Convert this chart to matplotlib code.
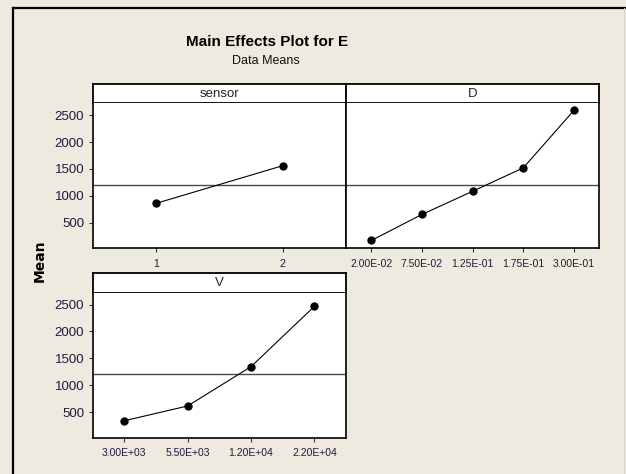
import matplotlib
matplotlib.use("Agg")
import matplotlib.pyplot as plt
from matplotlib.lines import Line2D

# Factor levels and response means
sensor_levels = ["1", "2"]
sensor_means = [860, 1560]

d_levels = ["2.00E-02", "7.50E-02", "1.25E-01", "1.75E-01", "3.00E-01"]
d_means = [170, 655, 1085, 1520, 2590]

v_levels = ["3.00E+03", "5.50E+03", "1.20E+04", "2.20E+04"]
v_means = [340, 615, 1345, 2465]

grand_mean = 1200
y_ticks = [500, 1000, 1500, 2000, 2500]

W, H = 626, 474
BG = "#eeeae0"
TICK_COLOR = "#1c1c3c"
regular = ["Liberation Sans", "DejaVu Sans"]

fig = plt.figure(figsize=(W / 100, H / 100), dpi=100, facecolor=BG)


def px_rect(x0, y0, x1, y1):
    """Convert a pixel box (top-left origin) into figure-fraction rect."""
    return [x0 / W, 1 - y1 / H, (x1 - x0) / W, (y1 - y0) / H]


def panel(x0, x1, strip_top, strip_bot, ax_bot, title, levels, means, show_y):
    strip = fig.add_axes(px_rect(x0, strip_top, x1, strip_bot))
    strip.set_facecolor("white")
    strip.set_xticks([])
    strip.set_yticks([])
    for s in strip.spines.values():
        s.set_linewidth(1.3)
        s.set_color("black")
    strip.text(0.5, 0.5, title, ha="center", va="center", fontsize=9.5,
               color="#222222", family=regular, transform=strip.transAxes)

    ax = fig.add_axes(px_rect(x0, strip_bot, x1, ax_bot))
    ax.set_facecolor("white")
    pos = list(range(1, len(levels) + 1))
    ax.axhline(grand_mean, color="#4a4a4a", lw=1.0, zorder=1)
    ax.plot(pos, means, color="black", lw=0.8, marker="o", markersize=5,
            zorder=3)
    ax.set_xlim(0.5, len(levels) + 0.5)
    ax.set_ylim(25, 2720)
    ax.set_xticks(pos)
    ax.set_xticklabels(levels, fontsize=7.5, color=TICK_COLOR, family=regular)
    ax.set_yticks(y_ticks)
    if show_y:
        ax.set_yticklabels([str(t) for t in y_ticks], fontsize=9.5,
                           color=TICK_COLOR, family=regular)
    else:
        ax.tick_params(axis="y", left=False, labelleft=False)
    ax.tick_params(axis="both", direction="out", length=2.7, width=0.8,
                   color="#333333")
    ax.tick_params(axis="x", pad=5)
    ax.tick_params(axis="y", pad=3.5)
    for name, s in ax.spines.items():
        s.set_linewidth(1.2)
        s.set_color("black")
    ax.spines["top"].set_visible(False)
    return ax


panel(92.7, 346, 84, 103.3, 248.3, "sensor", sensor_levels, sensor_means, True)
panel(346, 599.3, 84, 103.3, 248.3, "D", d_levels, d_means, False)
panel(92.7, 346, 273.3, 292.7, 437.7, "V", v_levels, v_means, True)

# Titles
fig.text(266.7 / W, 1 - 42.5 / H, "Main Effects Plot for E", ha="center",
         va="center", fontsize=11, fontweight="bold", family=regular,
         color="black")
fig.text(266 / W, 1 - 61.5 / H, "Data Means", ha="center", va="center",
         fontsize=9, family=regular, color="#111111")

# Shared y-axis label
fig.text(39.5 / W, 1 - 261 / H, "Mean", rotation=90, ha="center",
         va="center", fontsize=10, fontweight="bold", family="DejaVu Sans",
         color="black")

# Frame around the graph window
fig.add_artist(Line2D([12.5 / W, 12.5 / W], [0, 1 - 7.5 / H],
                      transform=fig.transFigure, color="black", lw=1.6))
fig.add_artist(Line2D([12.5 / W, 1], [1 - 7.5 / H, 1 - 7.5 / H],
                      transform=fig.transFigure, color="black", lw=1.6))
fig.add_artist(Line2D([623.5 / W, 623.5 / W], [0, 1 - 8 / H],
                      transform=fig.transFigure, color="#d6d2c8", lw=0.8))

fig.savefig("out.png", dpi=100, facecolor=BG)
